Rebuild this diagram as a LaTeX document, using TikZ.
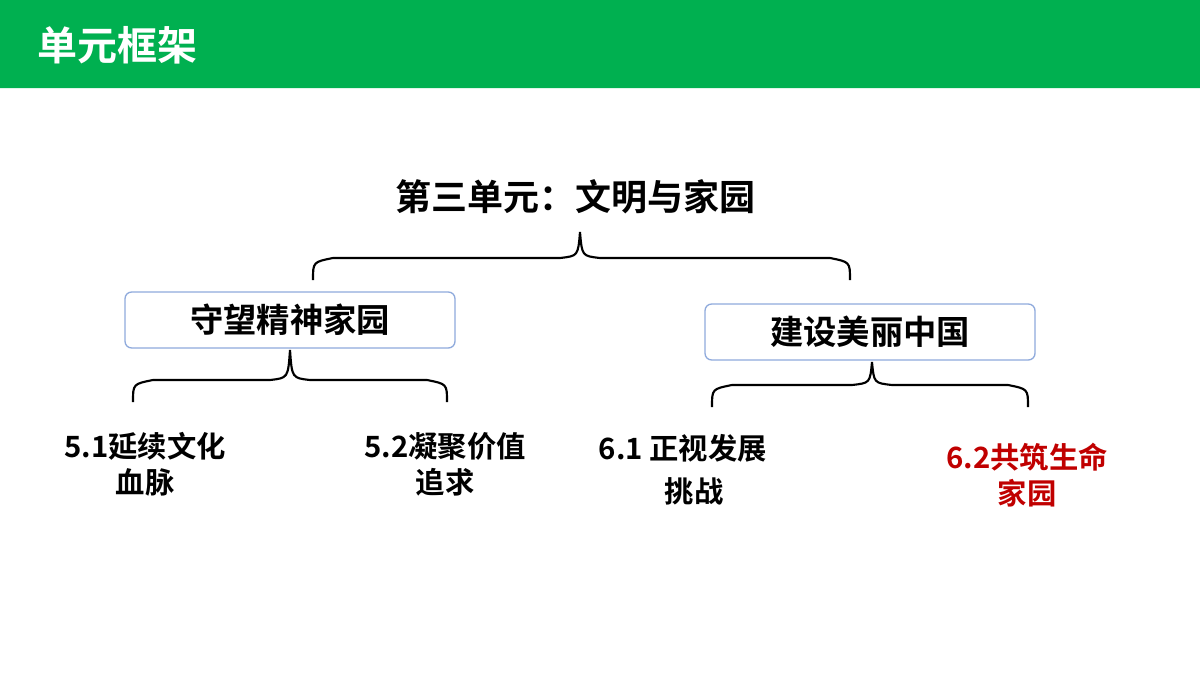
\documentclass[tikz,border=0pt]{standalone}
\usepackage{fontspec}
\setmainfont{Noto Sans CJK SC}[BoldFont={Noto Sans CJK SC Bold}]
\begin{document}
\begin{tikzpicture}[x=0.75pt,y=-0.75pt,
  brc/.style={line width=1.6pt,black},
  box/.style={draw=boxline,line width=1pt,rounded corners=5pt,fill=white},
  lv/.style={font=\bfseries\fontsize{22}{27}\selectfont,align=center}]
\definecolor{hdr}{HTML}{00B050}
\definecolor{boxline}{HTML}{8FAADC}
\definecolor{dred}{HTML}{C00000}
\useasboundingbox (0,0) rectangle (1200,675);
\fill[hdr] (0,0) -- (1185,0) arc[start angle=90,end angle=0,radius=15] -- (1200,88) -- (0,88) -- cycle;
\node[white,anchor=west,font=\bfseries\fontsize{30}{36}\selectfont] (title) at (33,45) {单元框架};
\node[font=\bfseries\fontsize{27}{32}\selectfont] (main) at (575,197) {第三单元：文明与家园};
% brace 1
\draw[brc] (313,280) .. controls (313,262) .. (333,258) -- (560,258) .. controls (578,256) .. (580,232)
  .. controls (582,256) .. (600,258) -- (830,258) .. controls (850,262) .. (850,280);
\node[box,minimum width=330*0.75pt,minimum height=56*0.75pt,font=\bfseries\fontsize{25}{30}\selectfont] (b1) at (290,320) {守望精神家园};
\node[box,minimum width=330*0.75pt,minimum height=56*0.75pt,font=\bfseries\fontsize{25}{30}\selectfont] (b2) at (870,332) {建设美丽中国};
% brace 2
\draw[brc] (133,402) .. controls (133,384) .. (153,380) -- (270,380) .. controls (288,378) .. (290,350)
  .. controls (292,378) .. (310,380) -- (427,380) .. controls (447,384) .. (447,402);
% brace 3
\draw[brc] (712,407) .. controls (712,389) .. (732,385) -- (852,385) .. controls (870,383) .. (872,362)
  .. controls (874,383) .. (892,385) -- (1008,385) .. controls (1028,389) .. (1028,407);
\node[lv] (l1) at (145,464) {5.1延续文化\\血脉};
\node[lv] (l2) at (445,464) {5.2凝聚价值\\追求};
\node[lv,anchor=west] (l3a) at (594,448) {6.1 正视发展};
\node[lv,anchor=west] (l3b) at (660,491) {挑战};
\node[lv,text=dred] (l4) at (1027,475) {6.2共筑生命\\家园};
\end{tikzpicture}
\end{document}
